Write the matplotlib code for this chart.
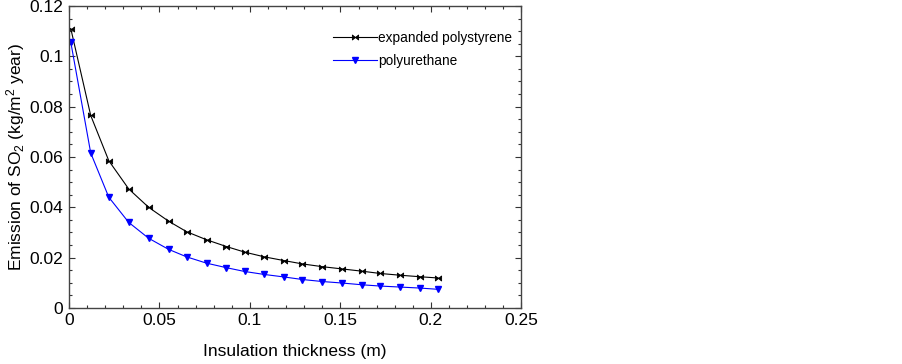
import matplotlib
matplotlib.use("Agg")
import matplotlib.pyplot as plt
from matplotlib.path import Path
from matplotlib.ticker import MultipleLocator, FuncFormatter

plt.rcParams['font.family'] = ['Liberation Sans', 'DejaVu Sans']
plt.rcParams['mathtext.fontset'] = 'custom'
plt.rcParams['mathtext.rm'] = 'Liberation Sans'
plt.rcParams['mathtext.it'] = 'Liberation Sans'

thickness = [0.001, 0.012, 0.022, 0.033, 0.044, 0.055, 0.065, 0.076, 0.087, 0.097,
             0.108, 0.119, 0.129, 0.140, 0.151, 0.162, 0.172, 0.183, 0.194, 0.204]
eps = [0.111, 0.0765, 0.0585, 0.0473, 0.0400, 0.0345, 0.0303, 0.0271, 0.0244, 0.0222,
       0.0203, 0.0188, 0.0175, 0.0164, 0.0155, 0.0146, 0.0137, 0.0130, 0.0124, 0.0119]
pur = [0.1056, 0.0616, 0.0440, 0.0340, 0.0277, 0.0233, 0.0203, 0.0178, 0.0160, 0.0145,
       0.0133, 0.0123, 0.0113, 0.0105, 0.0099, 0.0092, 0.0087, 0.0083, 0.0079, 0.0074]
labels = ["expanded polystyrene", "polyurethane"]

bowtie = Path([(-1, -0.8), (0, 0), (-1, 0.8), (-1, -0.8), (1, -0.8), (0, 0), (1, 0.8), (1, -0.8)],
              [Path.MOVETO, Path.LINETO, Path.LINETO, Path.CLOSEPOLY,
               Path.MOVETO, Path.LINETO, Path.LINETO, Path.CLOSEPOLY])

fig = plt.figure(figsize=(9.03, 3.64), dpi=100)
ax = fig.add_axes([0.0764, 0.154, 0.501, 0.8295])

ax.plot(thickness, eps, color='black', lw=0.8, marker=bowtie, ms=4.5, mfc='black',
        mec='black', mew=0.6, label=labels[0])
ax.plot(thickness, pur, color='blue', lw=0.8, marker='v', ms=4.5, mfc='blue',
        mec='blue', label=labels[1])

ax.set_xlim(0, 0.25)
ax.set_ylim(0, 0.12)
ax.xaxis.set_major_locator(MultipleLocator(0.05))
ax.xaxis.set_minor_locator(MultipleLocator(0.01))
ax.yaxis.set_major_locator(MultipleLocator(0.02))
ax.yaxis.set_minor_locator(MultipleLocator(0.005))
fmt = FuncFormatter(lambda v, p: ('%g' % round(v, 4)))
ax.xaxis.set_major_formatter(fmt)
ax.yaxis.set_major_formatter(fmt)
ax.tick_params(which='both', direction='in', top=True, right=True, labelsize=12.5,
               color='#333333')
ax.tick_params(which='major', length=4, width=0.8, pad=4)
ax.tick_params(which='minor', length=2, width=0.8)
for s in ax.spines.values():
    s.set_color('#444444')
    s.set_linewidth(1.0)

ax.set_xlabel('Insulation thickness (m)', fontsize=12.5, labelpad=11)
ax.set_ylabel('Emission of SO$_2$ (kg/m$^2$ year)', fontsize=12.5, labelpad=2)

ax.legend(loc='upper left', bbox_to_anchor=(0.572, 0.935), frameon=False,
          fontsize=9.8, handlelength=3.2, handletextpad=0.1, labelspacing=0.65,
          borderaxespad=0)

fig.savefig('out.png', dpi=100)
